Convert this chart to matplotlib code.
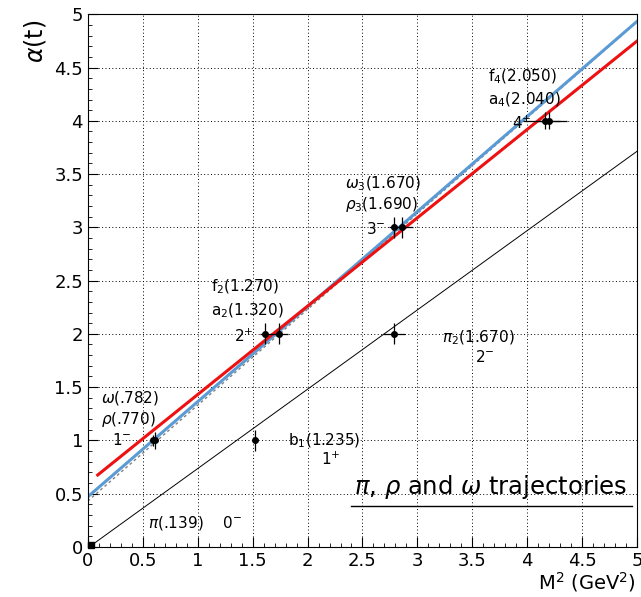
import matplotlib.pyplot as plt
import numpy as np
from matplotlib.ticker import MultipleLocator

# resonance points: M^2 (GeV^2) vs spin
pt_x = [0.03, 0.593, 0.612, 1.525, 1.613, 1.742, 2.79, 2.79, 2.856, 4.16, 4.20]
pt_y = [0.02, 1, 1, 1, 2, 2, 2, 3, 3, 4, 4]
pt_xerr = [0, 0, 0.03, 0.02, 0.05, 0.08, 0.1, 0.05, 0.1, 0.2, 0.1]
pt_yerr = [0, 0.05, 0.08, 0.1, 0.1, 0.1, 0.1, 0.1, 0.1, 0.08, 0.08]

# trajectory lines (intercept, slope, x start)
red_fit = (0.60, 0.83, 0.09)
blue_fit = (0.47, 0.893, 0.0)
dash_fit = (0.43, 0.90, 0.0)
pi_fit = (-0.01, 0.745, 0.0)

labels = [
    (0.12, 1.40, r"$\omega$(.782)"),
    (0.12, 1.20, r"$\rho$(.770)"),
    (0.22, 1.00, r"1$^{-}$"),
    (0.55, 0.22, r"$\pi$(.139)    0$^{-}$"),
    (1.82, 1.00, r"b$_1$(1.235)"),
    (2.12, 0.82, r"1$^{+}$"),
    (1.12, 2.44, r"f$_2$(1.270)"),
    (1.12, 2.22, r"a$_2$(1.320)"),
    (1.33, 1.98, r"2$^{+}$"),
    (3.22, 1.96, r"$\pi_2$(1.670)"),
    (3.52, 1.78, r"2$^{-}$"),
    (2.34, 3.41, r"$\omega_3$(1.670)"),
    (2.34, 3.21, r"$\rho_3$(1.690)"),
    (2.53, 2.98, r"3$^{-}$"),
    (3.64, 4.41, r"f$_4$(2.050)"),
    (3.64, 4.20, r"a$_4$(2.040)"),
    (3.86, 3.98, r"4$^{+}$"),
]

fig = plt.figure(figsize=(6.41, 5.97), dpi=100)
ax = fig.add_axes([0.137, 0.084, 0.857, 0.892])

xs = np.linspace(0, 5, 50)
b, m, x0 = pi_fit
ax.plot(xs, b + m * xs, color='black', lw=0.7)
b, m, x0 = dash_fit
ax.plot(xs, b + m * xs, color='gray', lw=1, ls=(0, (2, 2)))
b, m, x0 = blue_fit
ax.plot(xs, b + m * xs, color='#5b9bd5', lw=2.2)
b, m, x0 = red_fit
xx = np.linspace(x0, 5, 50)
ax.plot(xx, b + m * xx, color='#ee1111', lw=2.2)

ax.errorbar(pt_x[1:], pt_y[1:], xerr=pt_xerr[1:], yerr=pt_yerr[1:], fmt='o', color='black',
            ms=4, elinewidth=0.9, capsize=0)
ax.plot(pt_x[0], pt_y[0], 's', color='black', ms=5, clip_on=False)

for x, y, t in labels:
    ax.text(x, y, t, fontsize=11, ha='left', va='center')

ax.text(2.42, 0.56, r"$\pi$, $\rho$ and $\omega$ trajectories", fontsize=17.5, ha='left', va='center')
ax.plot([2.4, 4.95], [0.38, 0.38], color='black', lw=1)

ax.set_xlim(0, 5)
ax.set_ylim(0, 5)
ax.set_xticks(np.arange(0, 5.01, 0.5))
ax.set_yticks(np.arange(0, 5.01, 0.5))
ax.xaxis.set_minor_locator(MultipleLocator(0.1))
ax.yaxis.set_minor_locator(MultipleLocator(0.1))
ax.set_xticklabels(['0', '0.5', '1', '1.5', '2', '2.5', '3', '3.5', '4', '4.5', '5'])
ax.set_yticklabels(['0', '0.5', '1', '1.5', '2', '2.5', '3', '3.5', '4', '4.5', '5'])
ax.tick_params(which='both', direction='in', labelsize=13)
ax.tick_params(which='major', length=7)
ax.tick_params(which='minor', length=3)
ax.grid(True, which='major', color='black', ls=(0, (1, 2.5)), lw=0.7)

ax.text(-0.48, 4.75, r"$\alpha$(t)", fontsize=17, rotation=90, ha='center', va='center')
ax.text(4.99, -0.33, r"M$^2$ (GeV$^2$)", fontsize=14, ha='right', va='center')

plt.savefig('out.png', dpi=100)
